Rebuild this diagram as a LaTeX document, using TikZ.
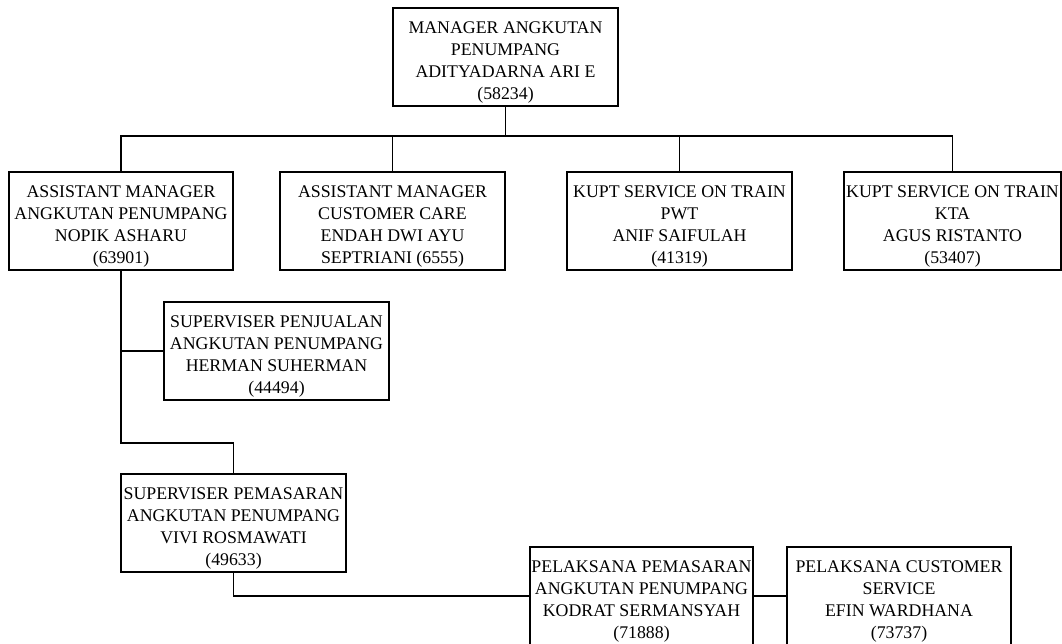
\documentclass[tikz,border=0pt]{standalone}
\usepackage{fontspec}
\setmainfont{Liberation Serif}
\usetikzlibrary{positioning}
\newcommand{\hstrut}{\rule{0pt}{22pt}}

\begin{document}
\begin{tikzpicture}[x=1pt,y=1pt,
    box/.style={draw, line width=1.2pt, align=center, inner sep=0pt,
      minimum height=98pt, minimum width=#1,
      font=\fontsize{17.8}{22}\selectfont},
    link/.style={line width=1.2pt}]
  \useasboundingbox (0,0) rectangle (1062,-644);
  \node[box=225] (mgr) at (505.5,-57)  {\hstrut MANAGER ANGKUTAN\\PENUMPANG\\ADITYADARNA ARI E\\(58234)};
  \node[box=224] (am1) at (121,-221)   {\hstrut ASSISTANT MANAGER\\ANGKUTAN PENUMPANG\\NOPIK ASHARU\\(63901)};
  \node[box=225] (am2) at (392.5,-221) {\hstrut ASSISTANT MANAGER\\CUSTOMER CARE\\ENDAH DWI AYU\\SEPTRIANI (6555)};
  \node[box=225] (pwt) at (679.5,-221) {\hstrut KUPT SERVICE ON TRAIN\\PWT\\ANIF SAIFULAH\\(41319)};
  \node[box=217] (kta) at (952.5,-221) {\hstrut KUPT SERVICE ON TRAIN\\KTA\\AGUS RISTANTO\\(53407)};
  \node[box=225] (spj) at (276.5,-351) {\hstrut SUPERVISER PENJUALAN\\ANGKUTAN PENUMPANG\\HERMAN SUHERMAN\\(44494)};
  \node[box=225] (spm) at (233.5,-523) {\hstrut SUPERVISER PEMASARAN\\ANGKUTAN PENUMPANG\\VIVI ROSMAWATI\\(49633)};
  \node[box=223] (pms) at (641.5,-596) {\hstrut PELAKSANA PEMASARAN\\ANGKUTAN PENUMPANG\\KODRAT SERMANSYAH\\(71888)};
  \node[box=224] (pcs) at (899,-596)   {\hstrut PELAKSANA CUSTOMER\\SERVICE\\EFIN WARDHANA\\(73737)};
  \coordinate (bus) at (0,-136);
  \coordinate (jog) at (0,-443);
  \draw[link] (mgr.south) -- (mgr.south |- bus);
  \draw[link] (am1.north) |- (kta.north |- bus) -- (kta.north);
  \draw[link] (am2.north) -- (am2.north |- bus);
  \draw[link] (pwt.north) -- (pwt.north |- bus);
  \draw[link] (am1.south) |- (spj.west);
  \draw[link] (am1.south) -- (am1.south |- jog) -| (spm.north);
  \draw[link] (spm.south) |- (pms.west);
  \draw[link] (pms.east) -- (pcs.west);
\end{tikzpicture}
\end{document}
